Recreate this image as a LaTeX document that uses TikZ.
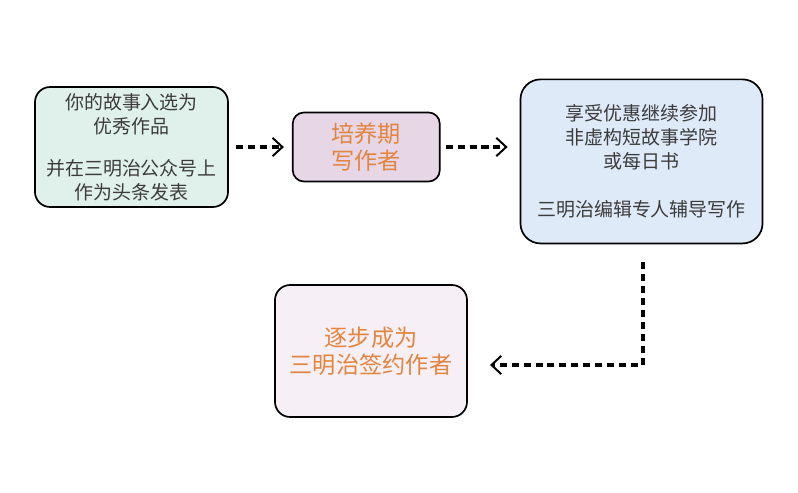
\documentclass[tikz,border=0pt]{standalone}
\usepackage{fontspec}
\setmainfont{Noto Sans CJK SC}
\usetikzlibrary{arrows.meta}
\usetikzlibrary{positioning}
\definecolor{greytext}{HTML}{3C3C3C}
\definecolor{orangetext}{HTML}{E3853F}
\definecolor{mintfill}{HTML}{E0F0EA}
\definecolor{lilacfill}{HTML}{E6D6E6}
\definecolor{skyfill}{HTML}{DEEAF8}
\definecolor{pinkfill}{HTML}{F7EFF6}
\tikzset{
  stagebox/.style={rectangle,rounded corners=0.38cm,draw=black,line width=1.2pt,align=center,inner sep=0pt},
  plaintext/.style={text=greytext,font=\fontsize{13.5}{17}\selectfont},
  goaltext/.style={text=orangetext,font=\fontsize{16.5}{19}\selectfont},
  flow/.style={line width=2.2pt,dash pattern=on 5pt off 3.5pt,-{Straight Barb[length=7pt,width=13pt,line width=1.4pt]}}
}
\begin{document}
\begin{tikzpicture}[x=0.025cm,y=-0.025cm]
\useasboundingbox[fill=white] (0,0) rectangle (798,493);
\node[stagebox,plaintext,fill=mintfill,minimum width=4.825cm,minimum height=3cm] (story) at (131.5,147)
  {你的故事入选为\\优秀作品\\[0.45cm]并在三明治公众号上\\作为头条发表};
\node[stagebox,goaltext,fill=lilacfill,rounded corners=0.28cm,minimum width=3.675cm,minimum height=1.725cm,right=1.575cm of story] (train)
  {培养期\\写作者};
\node[stagebox,plaintext,fill=skyfill,rounded corners=0.5cm,minimum width=6.05cm,minimum height=4.1cm,right=1.975cm of train,yshift=-0.36cm] (course)
  {享受优惠继续参加\\非虚构短故事学院\\或每日书\\[0.6cm]三明治编辑专人辅导写作};
\node[stagebox,goaltext,fill=pinkfill,minimum width=4.8cm,minimum height=3.3cm] (signed) at (371,351)
  {逐步成为\\三明治签约作者};
\coordinate (bend) at (643,365);
\coordinate (dtip) at (490,365);
\draw[flow,shorten <=0.175cm,shorten >=0.2cm] (story) -- (train);
\draw[flow,shorten <=0.125cm,shorten >=0.3cm] (train) -- (course.west |- train.east);
\draw[flow,shorten <=0.45cm] (course.south -| bend) -- (bend) -- (dtip);
\end{tikzpicture}
\end{document}
